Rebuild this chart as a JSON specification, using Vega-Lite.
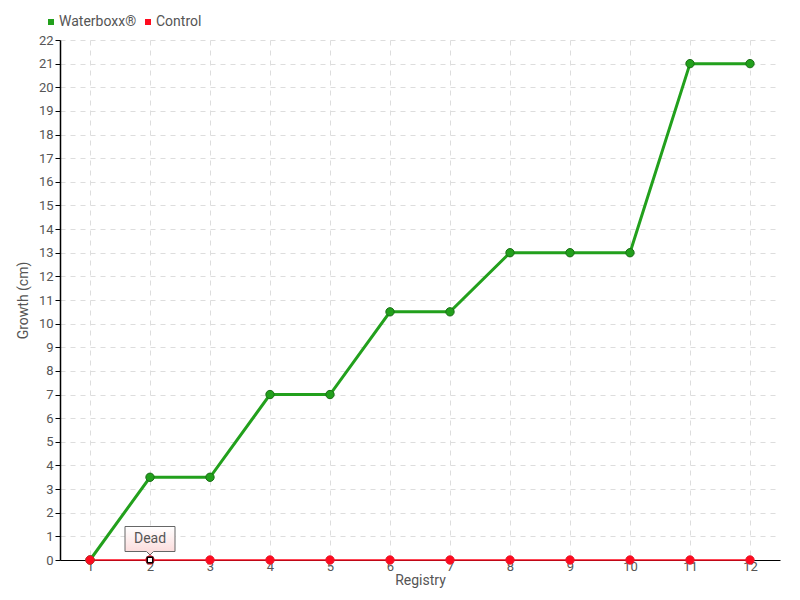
{
  "$schema": "https://vega.github.io/schema/vega-lite/v6.json",
  "width": 720,
  "height": 520,
  "autosize": "none",
  "padding": {"left": 60, "top": 40, "right": 20, "bottom": 40},
  "background": "white",
  "config": {
    "font": "Roboto, sans-serif",
    "view": {"stroke": null},
    "axis": {
      "labelColor": "#555555",
      "titleColor": "#555555",
      "labelFontSize": 13,
      "titleFontSize": 14,
      "titleFontWeight": "normal",
      "labelOverlap": false,
      "domainColor": "#000000",
      "tickColor": "#000000",
      "gridColor": "#dddddd",
      "gridDash": [5, 5],
      "gridWidth": 1
    }
  },
  "encoding": {
    "x": {"field": "reg", "type": "ordinal", "scale": {"type": "point", "padding": 0.5},
      "axis": {"title": "Registry", "labelAngle": 0, "ticks": false, "labelPadding": 0, "titlePadding": 0, "grid": true, "domainWidth": 1}},
    "y": {"field": "growth", "type": "quantitative",
      "scale": {"domain": [0, 22], "nice": false},
      "axis": {"title": "Growth (cm)", "values": [0,1,2,3,4,5,6,7,8,9,10,11,12,13,14,15,16,17,18,19,20,21,22], "tickSize": 5, "labelPadding": 2, "titlePadding": 8, "domainWidth": 1.5}}
  },
  "layer": [
    {
      "data": {"name": "main", "values": [
        {"reg": 1, "series": "Waterboxx®", "growth": 0},
        {"reg": 2, "series": "Waterboxx®", "growth": 3.5},
        {"reg": 3, "series": "Waterboxx®", "growth": 3.5},
        {"reg": 4, "series": "Waterboxx®", "growth": 7},
        {"reg": 5, "series": "Waterboxx®", "growth": 7},
        {"reg": 6, "series": "Waterboxx®", "growth": 10.5},
        {"reg": 7, "series": "Waterboxx®", "growth": 10.5},
        {"reg": 8, "series": "Waterboxx®", "growth": 13},
        {"reg": 9, "series": "Waterboxx®", "growth": 13},
        {"reg": 10, "series": "Waterboxx®", "growth": 13},
        {"reg": 11, "series": "Waterboxx®", "growth": 21},
        {"reg": 12, "series": "Waterboxx®", "growth": 21},
        {"reg": 1, "series": "Control", "growth": 0},
        {"reg": 2, "series": "Control", "growth": 0},
        {"reg": 3, "series": "Control", "growth": 0},
        {"reg": 4, "series": "Control", "growth": 0},
        {"reg": 5, "series": "Control", "growth": 0},
        {"reg": 6, "series": "Control", "growth": 0},
        {"reg": 7, "series": "Control", "growth": 0},
        {"reg": 8, "series": "Control", "growth": 0},
        {"reg": 9, "series": "Control", "growth": 0},
        {"reg": 10, "series": "Control", "growth": 0},
        {"reg": 11, "series": "Control", "growth": 0},
        {"reg": 12, "series": "Control", "growth": 0}
      ]},
      "layer": [
        {
          "transform": [{"filter": "datum.series === 'Waterboxx®'"}],
          "mark": {"type": "line", "strokeWidth": 3},
          "encoding": {
            "color": {"field": "series", "type": "nominal",
              "scale": {"domain": ["Waterboxx®", "Control"], "range": ["#22a01c", "#ff0a1e"]},
              "sort": null,
              "legend": {"title": null, "orient": "none", "legendX": -16, "legendY": -25, "direction": "horizontal",
                "symbolType": "square", "symbolSize": 36, "symbolStrokeWidth": 0, "labelFontSize": 14, "labelColor": "#555555", "columnPadding": 4, "labelOffset": 1}}
          }
        },
        {
          "transform": [{"filter": "datum.series === 'Control'"}],
          "mark": {"type": "line", "strokeWidth": 1.5},
          "encoding": {
            "color": {"field": "series", "type": "nominal"}
          }
        },
        {
          "mark": {"type": "point", "filled": true, "shape": "circle", "opacity": 1, "strokeWidth": 1, "size": 70},
          "encoding": {
            "color": {"field": "series", "type": "nominal"},
            "stroke": {"field": "series", "type": "nominal",
              "scale": {"domain": ["Waterboxx®", "Control"], "range": ["#1a6e16", "#e8182c"]}, "legend": null}
          }
        }
      ]
    },
    {
      "data": {"values": [{"reg": 2, "growth": 0, "label": "Dead"}]},
      "layer": [
        {
          "mark": {"type": "point", "filled": true, "opacity": 1,
            "shape": "M-1,-1.34H1V-0.34H0.14L0,-0.2L-0.14,-0.34H-1Z",
            "size": 2500,
            "fill": {"gradient": "linear", "x1": 0, "y1": 0, "x2": 0, "y2": 1,
              "stops": [{"offset": 0, "color": "#ffffff"}, {"offset": 1, "color": "#fbd8d8"}]},
            "stroke": "#666666", "strokeWidth": 1},
          "encoding": {}
        },
        {
          "mark": {"type": "point", "shape": "square", "filled": true, "opacity": 1, "size": 30, "fill": "#ffffff", "stroke": "#000000", "strokeWidth": 1.5},
          "encoding": {}
        },
        {
          "mark": {"type": "text", "dy": -21, "fontSize": 14, "color": "#555555"},
          "encoding": {
            "text": {"field": "label"}
          }
        }
      ]
    }
  ]
}
